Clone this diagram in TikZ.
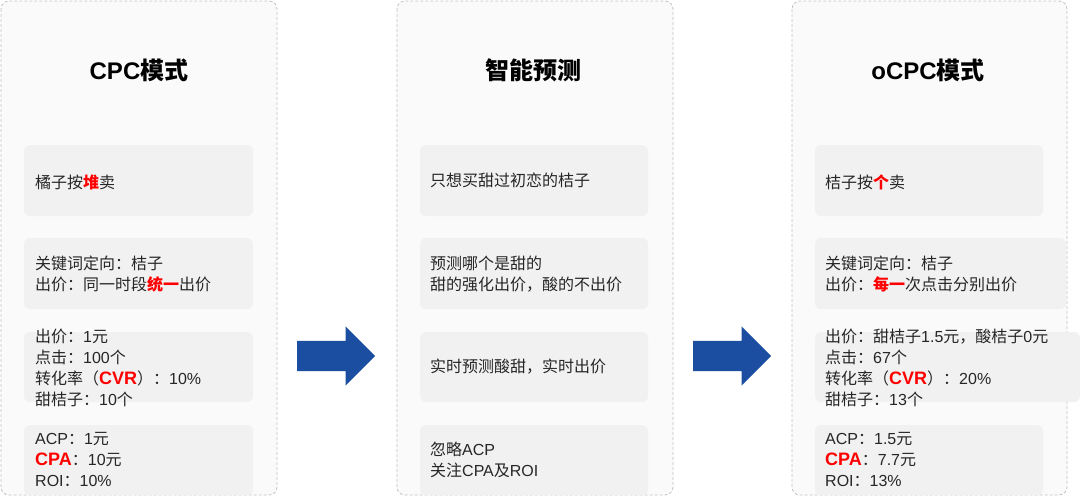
\documentclass[tikz,border=0pt]{standalone}
\usepackage{fontspec}
\setmainfont{Liberation Sans}
\newfontfamily\cjk{Noto Sans CJK SC}
\usetikzlibrary{shapes.arrows}
\definecolor{panelfill}{HTML}{FAFAFA}
\definecolor{panelline}{HTML}{C4C4C4}
\definecolor{boxfill}{HTML}{F1F1F1}
\definecolor{arrowblue}{HTML}{1B4EA0}
\definecolor{hlred}{HTML}{FF0000}
\definecolor{txtcol}{HTML}{262626}
\newcommand\zh[1]{{\cjk #1}}
\newcommand\hl[1]{{\color{hlred}\bfseries #1}}
\newcommand\bighl[1]{{\color{hlred}\bfseries\fontsize{18}{21}\selectfont #1}}
\begin{document}
\begin{tikzpicture}[x=1pt,y=-1pt,
  panel/.style={draw=panelline, dashed, dash pattern=on 3pt off 2pt, fill=panelfill, rounded corners=8pt, line width=0.8pt},
  card/.style={fill=boxfill, rounded corners=6pt},
  txt/.style={anchor=west, align=left, inner sep=0pt, text=txtcol, font=\fontsize{16}{21}\selectfont},
  ttl/.style={font=\bfseries\fontsize{24}{28}\selectfont, text=black, inner sep=0pt},
  bigarrow/.style={single arrow, fill=arrowblue, draw=none, minimum height=78pt, inner xsep=0pt, inner ysep=15pt, single arrow head extend=14.5pt, single arrow head indent=0pt, shape border rotate=0, text height=0pt, text depth=0pt, anchor=tail}
]
\useasboundingbox (0,0) rectangle (1080,501);
\fill[white] (0,0) rectangle (1080,501);
% panels
\draw[panel] (1,1) rectangle (277,495);
\draw[panel] (397,1) rectangle (673,495);
\draw[panel] (792,1) rectangle (1067,495);
% titles
\node[ttl] (h1) at (139,70) {CPC\zh{模式}};
\node[ttl] (h2) at (533,70) {\zh{智能预测}};
\node[ttl] (h3) at (928,70) {oCPC\zh{模式}};
% cards left
\fill[card] (24,145) rectangle (253,216);
\fill[card] (24,238) rectangle (253,309);
\fill[card] (24,332) rectangle (253,402);
\fill[card] (24,425) rectangle (253,495);
% cards middle
\fill[card] (420,145) rectangle (648,216);
\fill[card] (420,238) rectangle (648,309);
\fill[card] (420,332) rectangle (648,402);
\fill[card] (420,425) rectangle (648,495);
% cards right
\fill[card] (815,145) rectangle (1043,216);
\fill[card] (815,238) rectangle (1066,309);
\fill[card] (815,332) rectangle (1080,402);
\fill[card] (815,425) rectangle (1043,495);
% texts left
\node[txt] (l1) at (35,182) {\zh{橘子按}\hl{\zh{堆}}\zh{卖}};
\node[txt] (l2) at (35,274) {\zh{关键词定向：桔子}\\\zh{出价：同一时段}\hl{\zh{统一}}\zh{出价}};
\node[txt] (l3) at (35,367.5) {\zh{出价：}1\zh{元}\\\zh{点击：}100\zh{个}\\\zh{转化率（}\bighl{CVR}\zh{）：}10\%\\\zh{甜桔子：}10\zh{个}};
\node[txt] (l4) at (35,459.5) {ACP\zh{：}1\zh{元}\\\bighl{CPA}\zh{：}10\zh{元}\\ROI\zh{：}10\%};
% texts middle
\node[txt] (m1) at (430,180) {\zh{只想买甜过初恋的桔子}};
\node[txt] (m2) at (430,274) {\zh{预测哪个是甜的}\\\zh{甜的强化出价，酸的不出价}};
\node[txt] (m3) at (430,367) {\zh{实时预测酸甜，实时出价}};
\node[txt] (m4) at (430,460) {\zh{忽略}ACP\\\zh{关注}CPA\zh{及}ROI};
% texts right
\node[txt] (r1) at (825,182) {\zh{桔子按}\hl{\zh{个}}\zh{卖}};
\node[txt] (r2) at (825,274) {\zh{关键词定向：桔子}\\\zh{出价：}\hl{\zh{每一}}\zh{次点击分别出价}};
\node[txt] (r3) at (825,367.5) {\zh{出价：甜桔子}1.5\zh{元，酸桔子}0\zh{元}\\\zh{点击：}67\zh{个}\\\zh{转化率（}\bighl{CVR}\zh{）：}20\%\\\zh{甜桔子：}13\zh{个}};
\node[txt] (r4) at (825,459.5) {ACP\zh{：}1.5\zh{元}\\\bighl{CPA}\zh{：}7.7\zh{元}\\ROI\zh{：}13\%};
% arrows
\node[bigarrow] (a1) at (297,356) {};
\node[bigarrow] (a2) at (693,356) {};
\end{tikzpicture}
\end{document}
